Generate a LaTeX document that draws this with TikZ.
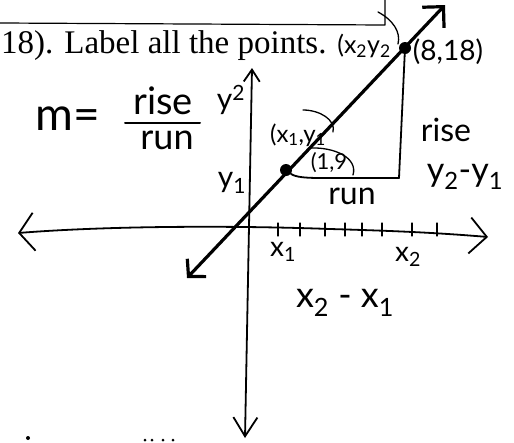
\documentclass[tikz,border=0pt]{standalone}
\usepackage{fontspec}
\setmainfont{Liberation Serif}
\newfontfamily\handfont{Lato}
\usetikzlibrary{arrows.meta}

\tikzset{
  hand/.style={font=\handfont\fontsize{#1}{#1}\selectfont, inner sep=0pt},
  dot/.style={circle, fill=black, inner sep=0pt, minimum size=12pt},
  axis/.style={line width=1.8pt},
  loop/.style={line width=1.3pt}
}

\begin{document}
\begin{tikzpicture}[x=1pt,y=-1pt,line cap=round,line join=round]
    \useasboundingbox (0,0) rectangle (514,442);

    % Printed box and question
    \draw[line width=1.2pt] (0,23) -- (385,25) -- (385,0);
    \node[anchor=base west, inner sep=0pt, font=\fontsize{33}{33}\selectfont]
      (question) at (1,53) {18). Label all the points.};

    % Axes
    \coordinate (xL) at (18,233);
    \coordinate (xR) at (488,237);
    \draw[axis,{Straight Barb[length=15pt,width=38pt]}-{Straight Barb[length=17pt,width=36pt]}]
      (xL) .. controls (120,225) and (250,226) .. (330,229)
           .. controls (400,231) and (440,233) .. (xR);
    \coordinate (yTop) at (252,68);
    \coordinate (yBot) at (245,438);
    \draw[axis,{Straight Barb[length=12pt,width=16pt]}-{Straight Barb[length=19pt,width=24pt]}]
      (yTop) -- (yBot);

    % Ticks
    \foreach \t in {278,300,325,345,362,382,412,437}
      \draw[line width=1.2pt] (\t,223) -- (\t,236);

    % Line through the two points
    \coordinate (lineEnd) at (187,278);
    \coordinate (lineTip) at (445,5);
    \draw[line width=3.2pt,{Straight Barb[length=12pt,width=26pt]}-{Straight Barb[length=15pt,width=30pt]}]
      (lineEnd) -- (lineTip);
    \node[dot] (pOne) at (286,170) {};
    \node[dot] (pTwo) at (405,48) {};

    % Rise and run
    \coordinate (corner) at (399,178);
    \draw[axis] (pTwo) -- (corner);
    \draw[axis] (pOne) .. controls (295,177) and (305,178) .. (320,178) -- (corner);

    % Point labels
    \node[hand=25] (ptwoName) at (364,46) {(x\textsubscript{2}y\textsubscript{2}};
    \draw[loop] (378,12) .. controls (393,20) and (401,32) .. (398,44);
    \node[hand=28] (ptwoVal) at (448,52) {(8,18)};
    \node[hand=24] (poneName) at (298,135) {(x\textsubscript{1},y\textsubscript{1}};
    \draw[loop] (303,110) .. controls (320,110) and (336,120) .. (333,132);
    \node[hand=22] (poneVal) at (329,163) {(1,9};
    \draw[loop] (310,148) .. controls (335,147) and (358,158) .. (353,175);

    % Slope formula
    \node[hand=46] (mEq) at (68,119) {m=};
    \node[hand=38] (fracTop) at (163,101) {rise};
    \draw[line width=2pt] (125,123) -- (200,123);
    \node[hand=36] (fracBot) at (167,140) {run};

    % Axis labels
    \node[hand=30] (yTwo) at (231,100) {y\textsuperscript{2}};
    \node[hand=30] (yOne) at (232,183) {y\textsubscript{1}};
    \node[hand=28] (xOne) at (283,252) {x\textsubscript{1}};
    \node[hand=28] (xTwo) at (408,257) {x\textsubscript{2}};

    % Differences
    \node[hand=32] (riseTxt) at (446,130) {rise};
    \node[hand=34] (dy) at (465,177) {y\textsubscript{2}-y\textsubscript{1}};
    \node[hand=32] (runTxt) at (352,196) {run};
    \node[hand=36] (dx) at (345,303) {x\textsubscript{2} - x\textsubscript{1}};

    % Cut-off text at the bottom
    \fill (28,438) circle (2pt);
    \foreach \p in {145,152,163,173}
      \fill (\p,440) circle (1.5pt);
\end{tikzpicture}
\end{document}
